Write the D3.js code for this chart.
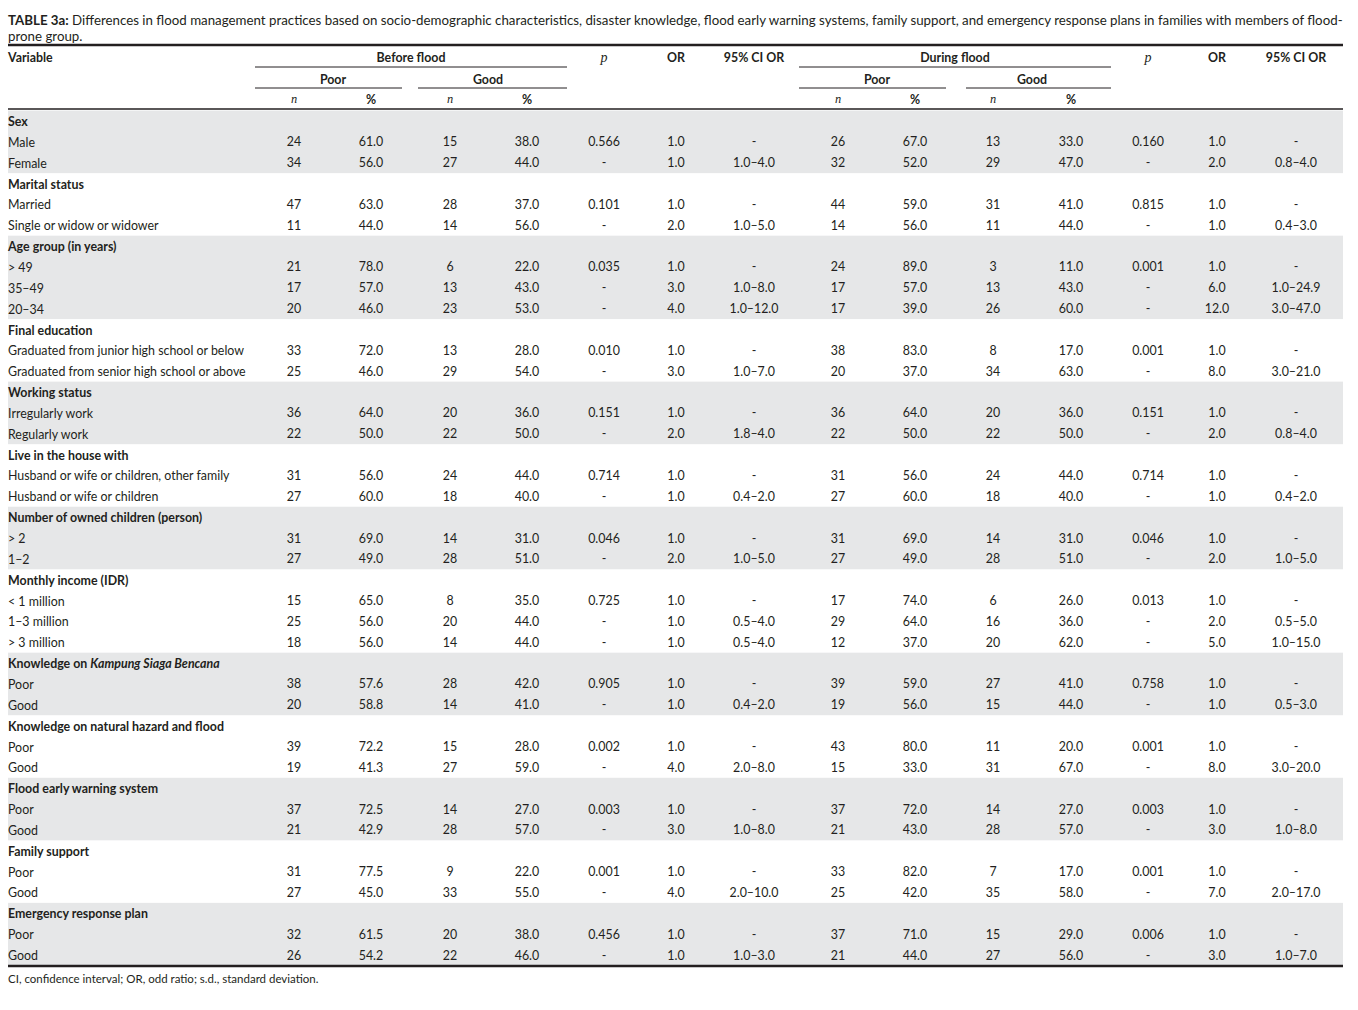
<!DOCTYPE html>
<html>
<head>
<meta charset="utf-8">
<script src="https://cdn.jsdelivr.net/npm/d3@7"></script>
<style>
  body { margin: 0; background: #fff; }
  svg text { font-family: Lato, "Noto Sans", sans-serif; fill: #231f20; }
  .hdr { font-weight: bold; }
  .it { font-family: "Liberation Serif", "DejaVu Serif", serif !important; font-style: italic; font-weight: normal; }
</style>
</head>
<body>
<div id="table"></div>
<script>
// ---- data ----
const groupNames = ["Sex", "Marital status", "Age group (in years)", "Final education", "Working status",
    "Live in the house with", "Number of owned children (person)", "Monthly income (IDR)",
    "Knowledge on |Kampung Siaga Bencana|", "Knowledge on natural hazard and flood",
    "Flood early warning system", "Family support", "Emergency response plan"];

const groupItems = [
    ["Male", "Female"],
    ["Married", "Single or widow or widower"],
    ["> 49", "35\u201349", "20\u201334"],
    ["Graduated from junior high school or below", "Graduated from senior high school or above"],
    ["Irregularly work", "Regularly work"],
    ["Husband or wife or children, other family", "Husband or wife or children"],
    ["> 2", "1\u20132"],
    ["< 1 million", "1\u20133 million", "> 3 million"],
    ["Poor", "Good"],
    ["Poor", "Good"],
    ["Poor", "Good"],
    ["Poor", "Good"],
    ["Poor", "Good"]
];

// before flood
const beforePoorN   = [24, 34, 47, 11, 21, 17, 20, 33, 25, 36, 22, 31, 27, 31, 27, 15, 25, 18, 38, 20, 39, 19, 37, 21, 31, 27, 32, 26];
const beforePoorPct = [61.0, 56.0, 63.0, 44.0, 78.0, 57.0, 46.0, 72.0, 46.0, 64.0, 50.0, 56.0, 60.0, 69.0, 49.0, 65.0, 56.0, 56.0, 57.6, 58.8, 72.2, 41.3, 72.5, 42.9, 77.5, 45.0, 61.5, 54.2];
const beforeGoodN   = [15, 27, 28, 14, 6, 13, 23, 13, 29, 20, 22, 24, 18, 14, 28, 8, 20, 14, 28, 14, 15, 27, 14, 28, 9, 33, 20, 22];
const beforeGoodPct = [38.0, 44.0, 37.0, 56.0, 22.0, 43.0, 53.0, 28.0, 54.0, 36.0, 50.0, 44.0, 40.0, 31.0, 51.0, 35.0, 44.0, 44.0, 42.0, 41.0, 28.0, 59.0, 27.0, 57.0, 22.0, 55.0, 38.0, 46.0];
const beforeP       = [0.566, null, 0.101, null, 0.035, null, null, 0.010, null, 0.151, null, 0.714, null, 0.046, null, 0.725, null, null, 0.905, null, 0.002, null, 0.003, null, 0.001, null, 0.456, null];
const beforeOR      = [1, 1, 1, 2, 1, 3, 4, 1, 3, 1, 2, 1, 1, 1, 2, 1, 1, 1, 1, 1, 1, 4, 1, 3, 1, 4, 1, 1];
const beforeCI      = [null, [1, 4], null, [1, 5], null, [1, 8], [1, 12], null, [1, 7], null, [1.8, 4], null, [0.4, 2],
    null, [1, 5], null, [0.5, 4], [0.5, 4], null, [0.4, 2], null, [2, 8], null, [1, 8], null, [2, 10], null, [1, 3]];

// during flood
const duringPoorN   = [26, 32, 44, 14, 24, 17, 17, 38, 20, 36, 22, 31, 27, 31, 27, 17, 29, 12, 39, 19, 43, 15, 37, 21, 33, 25, 37, 21];
const duringPoorPct = [67.0, 52.0, 59.0, 56.0, 89.0, 57.0, 39.0, 83.0, 37.0, 64.0, 50.0, 56.0, 60.0, 69.0, 49.0, 74.0, 64.0, 37.0, 59.0, 56.0, 80.0, 33.0, 72.0, 43.0, 82.0, 42.0, 71.0, 44.0];
const duringGoodN   = [13, 29, 31, 11, 3, 13, 26, 8, 34, 20, 22, 24, 18, 14, 28, 6, 16, 20, 27, 15, 11, 31, 14, 28, 7, 35, 15, 27];
const duringGoodPct = [33.0, 47.0, 41.0, 44.0, 11.0, 43.0, 60.0, 17.0, 63.0, 36.0, 50.0, 44.0, 40.0, 31.0, 51.0, 26.0, 36.0, 62.0, 41.0, 44.0, 20.0, 67.0, 27.0, 57.0, 17.0, 58.0, 29.0, 56.0];
const duringP       = [0.160, null, 0.815, null, 0.001, null, null, 0.001, null, 0.151, null, 0.714, null, 0.046, null, 0.013, null, null, 0.758, null, 0.001, null, 0.003, null, 0.001, null, 0.006, null];
const duringOR      = [1, 2, 1, 1, 1, 6, 12, 1, 8, 1, 2, 1, 1, 1, 2, 1, 2, 5, 1, 1, 1, 8, 1, 3, 1, 7, 1, 3];
const duringCI      = [null, [0.8, 4], null, [0.4, 3], null, [1, 24.9], [3, 47], null, [3, 21], null, [0.8, 4], null, [0.4, 2],
    null, [1, 5], null, [0.5, 5], [1, 15], null, [0.5, 3], null, [3, 20], null, [1, 8], null, [2, 17], null, [1, 7]];

const columnKeys = ["bpn", "bpp", "bgn", "bgp", "bp", "bor", "bci", "dpn", "dpp", "dgn", "dgp", "dp", "dor", "dci"];

const titleBold = "TABLE 3a:";
const titleLine1 = " Differences in flood management practices based on socio-demographic characteristics, disaster knowledge, flood early warning systems, family support, and emergency response plans in families with members of flood-";
const titleLine2 = "prone group.";
const footnote = "CI, confidence interval; OR, odd ratio; s.d., standard deviation.";

// ---- formatting ----
const f1 = d3.format(".1f"), f3 = d3.format(".3f");
const fmtN = v => String(v);
const fmtP = v => v === null ? "-" : f3(v);
const fmtCI = v => v === null ? "-" : f1(v[0]) + "\u2013" + f1(v[1]);

// flatten into rows
let rows = [], di = 0;
groupNames.forEach((g, gi) => {
    rows.push({label: g, header: true, group: gi});
    groupItems[gi].forEach(item => {
        rows.push({
            label: item, header: false, group: gi,
            vals: [fmtN(beforePoorN[di]), f1(beforePoorPct[di]), fmtN(beforeGoodN[di]), f1(beforeGoodPct[di]),
                fmtP(beforeP[di]), f1(beforeOR[di]), fmtCI(beforeCI[di]),
                fmtN(duringPoorN[di]), f1(duringPoorPct[di]), fmtN(duringGoodN[di]), f1(duringGoodPct[di]),
                fmtP(duringP[di]), f1(duringOR[di]), fmtCI(duringCI[di])]
        });
        di++;
    });
});

// ---- layout ----
const width = 1358, height = 1010;
const left = 8, right = 1343;
const fs = "12.4px";

const svg = d3.select("#table").append("svg")
    .attr("width", width)
    .attr("height", height);

const x = d3.scaleOrdinal()
    .domain(columnKeys)
    .range([294, 371, 450, 527, 604, 676, 754, 838, 915, 993, 1071, 1148, 1217, 1296]);

const y = d3.scaleLinear()
    .domain([0, rows.length - 1])
    .range([121, 955]);
const rowH = y(1) - y(0);

// gray bands for every other group
const bands = d3.groups(rows.map((r, i) => ({...r, i})), r => r.group)
    .filter(([g]) => g % 2 === 0);

svg.append("g").selectAll("rect")
    .data(bands)
    .join("rect")
    .attr("x", left)
    .attr("width", right - left)
    .attr("y", d => y(d[1][0].i) - rowH / 2)
    .attr("height", d => d[1].length * rowH)
    .attr("fill", "#e6e7e8");

// title, sized so line one spans the table width
const title = svg.append("text").attr("x", left).attr("y", 20)
    .attr("dominant-baseline", "central").style("font-size", "13px");
title.append("tspan").attr("font-weight", "bold").text(titleBold);
title.append("tspan").text(titleLine1);
const tw = title.node().getComputedTextLength();
const titleSize = 13 * (right - left) / tw;
title.style("font-size", titleSize + "px");
svg.append("text").attr("x", left).attr("y", 36)
    .attr("dominant-baseline", "central")
    .style("font-size", titleSize + "px").text(titleLine2);

// rules
const rule = (x1, x2, yy, w) => svg.append("line")
    .attr("x1", x1).attr("x2", x2).attr("y1", yy).attr("y2", yy)
    .attr("stroke", "#231f20").attr("stroke-width", w);

rule(left, right, 45, 2.5);
rule(left, right, 109, 1.5);
rule(left, right, 966, 2.5);
rule(255, 567, 67, 1);
rule(255, 402, 88, 1);
rule(418, 567, 88, 1);
rule(799, 1111, 67, 1);
rule(799, 946, 88, 1);
rule(966, 1111, 88, 1);

// header
const head = svg.append("g").style("font-size", fs).attr("class", "hdr");
const htext = (tx, ty, s, cls) => head.append("text")
    .attr("x", tx).attr("y", ty)
    .attr("dominant-baseline", "central")
    .attr("text-anchor", "middle")
    .attr("class", cls || null)
    .text(s);

head.append("text").attr("x", left).attr("y", 57).attr("dominant-baseline", "central").text("Variable");
htext(411, 57, "Before flood");
htext(955, 57, "During flood");
htext(333, 79, "Poor");
htext(488, 79, "Good");
htext(877, 79, "Poor");
htext(1032, 79, "Good");
["bpn", "bgn", "dpn", "dgn"].forEach(k => htext(x(k), 99, "n", "it"));
["bpp", "bgp", "dpp", "dgp"].forEach(k => htext(x(k), 99, "%"));
["bp", "dp"].forEach(k => htext(x(k), 57, "p", "it").style("font-size", "14px"));
["bor", "dor"].forEach(k => htext(x(k), 57, "OR"));
["bci", "dci"].forEach(k => htext(x(k), 57, "95% CI OR"));

// body
const body = svg.append("g").style("font-size", fs);

const rowG = body.selectAll("g.row")
    .data(rows)
    .join("g")
    .attr("class", "row")
    .attr("transform", (d, i) => `translate(0,${y(i)})`);

rowG.append("text")
    .attr("x", left)
    .attr("dominant-baseline", "central")
    .attr("class", d => d.header ? "hdr" : null)
    .each(function (d) {
        const parts = d.label.split("|");
        parts.forEach((p, pi) => {
            d3.select(this).append("tspan")
                .style("font-style", pi % 2 === 1 ? "italic" : null)
                .text(p);
        });
    });

rowG.filter(d => !d.header)
    .selectAll("text.val")
    .data(d => d.vals.map((v, k) => ({v, k: columnKeys[k]})))
    .join("text")
    .attr("class", "val")
    .attr("x", d => x(d.k))
    .attr("text-anchor", "middle")
    .attr("dominant-baseline", "central")
    .text(d => d.v);

// footnote
svg.append("text")
    .attr("x", left)
    .attr("y", 978)
    .attr("dominant-baseline", "central")
    .style("font-size", "11.5px")
    .text(footnote);
</script>
</body>
</html>
